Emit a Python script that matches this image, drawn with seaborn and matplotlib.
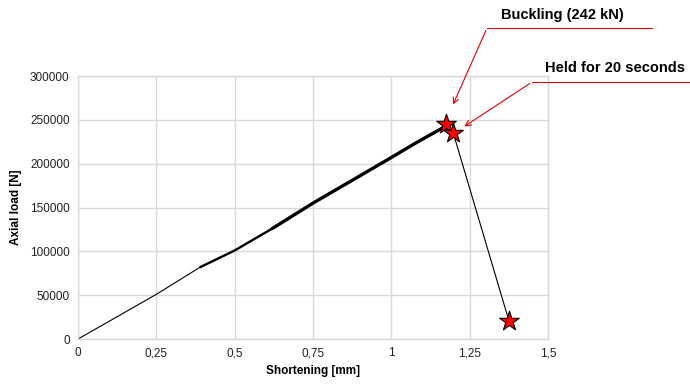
import pandas as pd
import matplotlib.pyplot as plt
import seaborn as sns

# Load-shortening readings
shortening = [0.0, 0.25, 0.39, 0.5, 0.62, 0.75, 0.88, 1.0, 1.08, 1.165]
load = [0, 51000, 82000, 101000, 126000, 155000, 182000, 207000, 224000, 241000]

# Marked points: buckling, held, after
star_x = [1.175, 1.198, 1.376]
star_y = [245000, 235000, 20500]

x_ticks = [0, 0.25, 0.5, 0.75, 1, 1.25, 1.5]
x_tick_labels = ['0', '0,25', '0,5', '0,75', '1', '1,25', '1,5']
y_ticks = [0, 50000, 100000, 150000, 200000, 250000, 300000]

sns.set_style('whitegrid')
plt.rcParams['font.family'] = ['Liberation Sans', 'DejaVu Sans']

fig = plt.figure(figsize=(6.9, 3.84), dpi=100)
ax = fig.add_axes([0.113, 0.117, 0.681, 0.685])

curve = pd.DataFrame({'x': shortening, 'y': load})
sparse = curve[(curve['x'] >= 0.39) & (curve['x'] <= 0.62)]
dense = curve[curve['x'] >= 0.62]
drop = pd.DataFrame({'x': [shortening[-1], star_x[1], star_x[2]],
                     'y': [load[-1], star_y[1], star_y[2]]})

sns.lineplot(data=curve, x='x', y='y', sort=False, estimator=None,
             color='black', linewidth=0.8, ax=ax)
sns.lineplot(data=sparse, x='x', y='y', sort=False, estimator=None,
             color='black', linewidth=1.7, ax=ax)
sns.lineplot(data=dense, x='x', y='y', sort=False, estimator=None,
             color='black', linewidth=2.4, ax=ax)
sns.lineplot(data=drop, x='x', y='y', sort=False, estimator=None,
             color='black', linewidth=0.8, ax=ax)
sns.scatterplot(x=star_x, y=star_y, marker='*', s=220, color='red',
                edgecolor='black', linewidth=0.8, zorder=5, ax=ax)

ax.set_xlim(0, 1.5)
ax.set_ylim(0, 300000)
ax.set_xticks(x_ticks)
ax.set_xticklabels(x_tick_labels)
ax.set_yticks(y_ticks)
ax.set_yticklabels([str(v) for v in y_ticks])
ax.tick_params(labelsize=8.5, colors='#222222', length=0, pad=6)
ax.grid(color='#d9d9d9', linewidth=1)
for s in ax.spines.values():
    s.set_color('#d9d9d9')
    s.set_linewidth(1)

ax.set_xlabel('Shortening [mm]', fontsize=8.5, fontweight='bold', labelpad=4,
              color='black')
ax.set_ylabel('Axial load [N]', fontsize=8.5, fontweight='bold', labelpad=6,
              color='black')

# Callouts
red = '#e00000'
fig.add_artist(plt.Line2D([487 / 690, 652 / 690], [1 - 28 / 384, 1 - 28 / 384],
                          color=red, linewidth=0.8))
fig.add_artist(plt.Line2D([532 / 690, 690 / 690], [1 - 82 / 384, 1 - 82 / 384],
                          color=red, linewidth=0.8))
ax.annotate('', xy=(452 / 690, 1 - 107 / 384), xycoords='figure fraction',
            xytext=(487 / 690, 1 - 28 / 384), textcoords='figure fraction',
            arrowprops=dict(arrowstyle='->', color=red, linewidth=0.8))
ax.annotate('', xy=(462 / 690, 1 - 128 / 384), xycoords='figure fraction',
            xytext=(532 / 690, 1 - 82 / 384), textcoords='figure fraction',
            arrowprops=dict(arrowstyle='->', color=red, linewidth=0.8))
fig.text(562 / 690, 1 - 15 / 384, 'Buckling (242 kN)', fontsize=10.5,
         fontweight='bold', ha='center', va='center', color='black')
fig.text(615 / 690, 1 - 68 / 384, 'Held for 20 seconds', fontsize=10.5,
         fontweight='bold', ha='center', va='center', color='black')

fig.savefig('out.png', dpi=100)
